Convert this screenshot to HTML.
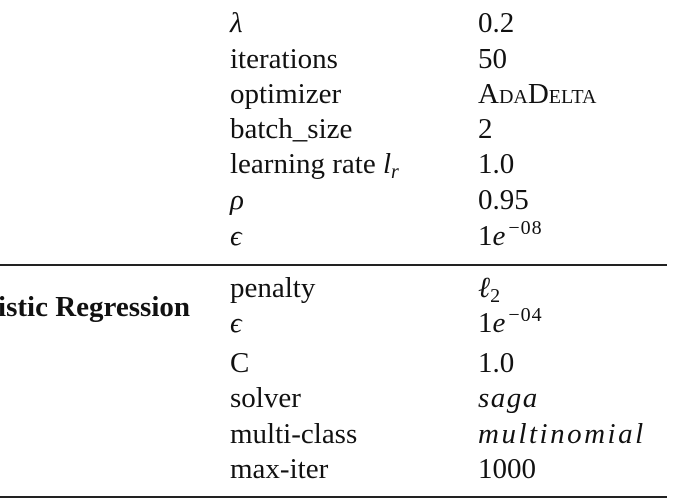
<!DOCTYPE html>
<html><head><meta charset="utf-8"><style>
html,body{margin:0;padding:0;background:#fff;}
#wrap{position:relative;width:680px;height:500px;overflow:hidden;font-family:"Liberation Serif","DejaVu Serif",serif;font-size:29px;color:#111;}
.c{position:absolute;white-space:nowrap;line-height:28px;height:28px;}
.i{font-style:italic;}
.sc{font-variant:small-caps;}
sup{font-size:20px;vertical-align:11px;line-height:0;margin-left:3px;letter-spacing:1px;}
sub{font-size:20px;vertical-align:-5px;line-height:0;}
.rule{position:absolute;left:0;width:667px;height:1.5px;background:#222;}
</style></head><body>
<div id="wrap">
<div class="c" style="left:230px;top:9px"><span class="i">λ</span></div>
<div class="c" style="left:478px;top:9px">0.2</div>
<div class="c" style="left:230px;top:45px">iterations</div>
<div class="c" style="left:478px;top:45px">50</div>
<div class="c" style="left:230px;top:80px">optimizer</div>
<div class="c sc" style="left:478px;top:80px">AdaDelta</div>
<div class="c" style="left:230px;top:115px">batch_size</div>
<div class="c" style="left:478px;top:115px">2</div>
<div class="c" style="left:230px;top:150px">learning rate <span class="i">l<sub>r</sub></span></div>
<div class="c" style="left:478px;top:150px">1.0</div>
<div class="c" style="left:230px;top:186px"><span class="i">ρ</span></div>
<div class="c" style="left:478px;top:186px">0.95</div>
<div class="c" style="left:230px;top:222px"><span class="i">ϵ</span></div>
<div class="c" style="left:478px;top:222px">1<span class="i">e</span><sup>−08</sup></div>

<div class="rule" style="top:264px"></div>

<div class="c" style="right:490px;top:293px;font-weight:bold">Logistic Regression</div>
<div class="c" style="left:230px;top:274px">penalty</div>
<div class="c" style="left:478px;top:274px"><span class="i">ℓ</span><sub style="font-style:normal">2</sub></div>
<div class="c" style="left:230px;top:309px"><span class="i">ϵ</span></div>
<div class="c" style="left:478px;top:309px">1<span class="i">e</span><sup>−04</sup></div>
<div class="c" style="left:230px;top:349px">C</div>
<div class="c" style="left:478px;top:349px">1.0</div>
<div class="c" style="left:230px;top:384px">solver</div>
<div class="c i" style="left:478px;top:384px;letter-spacing:1.5px">saga</div>
<div class="c" style="left:230px;top:420px">multi-class</div>
<div class="c i" style="left:478px;top:420px;letter-spacing:2.5px">multinomial</div>
<div class="c" style="left:230px;top:455px">max-iter</div>
<div class="c" style="left:478px;top:455px">1000</div>

<div class="rule" style="top:496px"></div>
</div>
</body></html>
